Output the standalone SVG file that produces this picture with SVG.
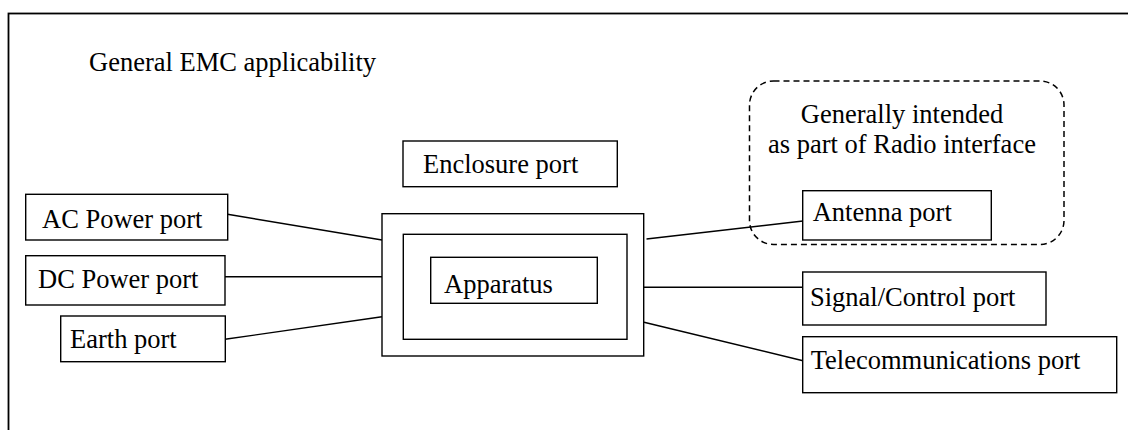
<svg xmlns="http://www.w3.org/2000/svg" width="1128" height="430" viewBox="0 0 1128 430">
<style>
.box{fill:#fff;stroke:#000;stroke-width:1.4}
.frame{fill:none;stroke:#000;stroke-width:1.8}
.t{font-family:"Liberation Serif","Times New Roman",serif;font-size:26.5px;fill:#000}
.c{stroke:#000;stroke-width:1.4;fill:none}
.dash{fill:none;stroke:#000;stroke-width:1.5;stroke-dasharray:6 4}
</style>
<rect width="1128" height="430" fill="#fff"/>
<rect class="frame" x="8.5" y="13.5" width="1135" height="440"/>
<text class="t" x="89" y="71">General EMC applicability</text>
<g id="radio-group">
<rect class="dash" x="749.5" y="81" width="314.5" height="163.5" rx="24" ry="24"/>
<text class="t" x="902" y="123" text-anchor="middle">Generally intended</text>
<text class="t" x="902" y="153" text-anchor="middle">as part of Radio interface</text>
</g>
<g id="connectors">
<line class="c" x1="227.5" y1="214.3" x2="382" y2="240"/>
<line class="c" x1="225" y1="276.7" x2="382" y2="276.7"/>
<line class="c" x1="225" y1="339.3" x2="382" y2="316.7"/>
<line class="c" x1="646.5" y1="239" x2="803" y2="221"/>
<line class="c" x1="642" y1="287.3" x2="803" y2="287.3"/>
<line class="c" x1="644" y1="322.3" x2="803" y2="360.7"/>
</g>
<g id="ac-power-port">
<rect class="box" x="25.7" y="194.3" width="202" height="45.7"/>
<text class="t" x="42" y="228">AC Power port</text>
</g>
<g id="dc-power-port">
<rect class="box" x="25.7" y="255.7" width="199.3" height="49.3"/>
<text class="t" x="38" y="288.3">DC Power port</text>
</g>
<g id="earth-port">
<rect class="box" x="60.7" y="316" width="164.6" height="45.7"/>
<text class="t" x="70" y="348.3">Earth port</text>
</g>
<g id="enclosure-port">
<rect class="box" x="403" y="141" width="214.3" height="45.7"/>
<text class="t" x="423" y="173">Enclosure port</text>
</g>
<g id="enclosure">
<rect class="box" x="382" y="213.7" width="261.7" height="142.3"/>
<rect class="box" x="403.3" y="234.3" width="223.7" height="105"/>
</g>
<g id="apparatus">
<rect class="box" x="430.7" y="257.3" width="166.6" height="46"/>
<text class="t" x="444" y="292.7">Apparatus</text>
</g>
<g id="antenna-port">
<rect class="box" x="802.7" y="190.7" width="188.6" height="49.3"/>
<text class="t" x="812.7" y="221">Antenna port</text>
</g>
<g id="signal-control-port">
<rect class="box" x="802.7" y="272" width="243.3" height="53"/>
<text class="t" x="810" y="306">Signal/Control port</text>
</g>
<g id="telecommunications-port">
<rect class="box" x="802.7" y="336.7" width="314" height="56"/>
<text class="t" x="810.7" y="369.3">Telecommunications port</text>
</g>
</svg>
